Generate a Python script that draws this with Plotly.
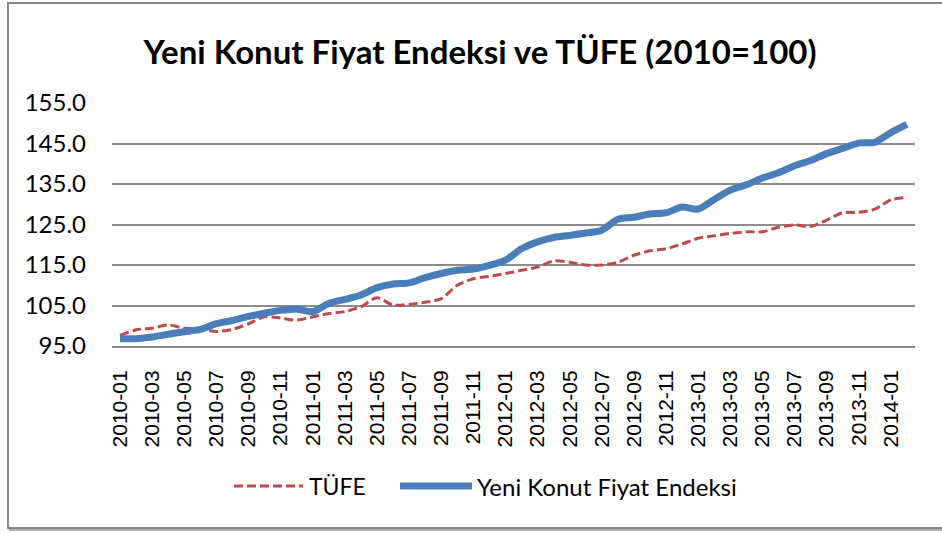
import plotly.graph_objects as go

# Monthly series, 2010-01 .. 2014-02 (2010 = 100)
months = [f"{y}-{m:02d}" for y in range(2010, 2015) for m in range(1, 13)][:50]
tufe = [97.6, 99.0, 99.4, 100.2, 99.4, 99.2, 98.6, 99.1, 100.5, 102.2,
        101.9, 101.4, 102.2, 103.0, 103.5, 104.7, 106.9, 105.1, 105.3, 105.8,
        106.7, 110.0, 111.6, 112.2, 112.9, 113.7, 114.5, 116.0, 115.7, 115.0,
        115.0, 115.7, 117.4, 118.5, 119.0, 120.2, 121.6, 122.2, 122.8, 123.2,
        123.2, 124.3, 124.9, 124.5, 126.1, 127.9, 128.0, 128.8, 131.1, 131.7]
konut = [96.8, 96.8, 97.2, 97.9, 98.5, 99.1, 100.5, 101.3, 102.3, 103.1,
         103.8, 104.1, 103.5, 105.5, 106.5, 107.6, 109.4, 110.3, 110.6, 111.9,
         112.9, 113.7, 114.0, 114.9, 116.2, 119.0, 120.7, 121.8, 122.3, 122.9,
         123.6, 126.3, 126.8, 127.6, 127.9, 129.3, 128.8, 131.2, 133.5, 134.8,
         136.5, 137.8, 139.5, 140.8, 142.5, 143.8, 145.1, 145.3, 147.7, 149.7]
y_ticks = [95, 105, 115, 125, 135, 145, 155]
series_names = ["TÜFE", "Yeni Konut Fiyat Endeksi"]
title_text = "Yeni Konut Fiyat Endeksi ve TÜFE (2010=100)"

RED = "#be4b48"
BLUE = "#4a7ebb"
GRID = "#8c8c8c"

W, H = 942, 533
ML, MR, MT, MB = 112, 27, 103, 187
PW, PH = W - ML - MR, H - MT - MB


def px_x(p):
    return (p - ML) / PW


def px_y(p):
    return (H - MB - p) / PH


fig = go.Figure()
fig.add_trace(go.Scatter(x=months, y=tufe, name=series_names[0], mode="lines",
                         line=dict(color=RED, width=3, dash="9px,4px",
                                   shape="spline", smoothing=0.8)))
fig.add_trace(go.Scatter(x=months, y=konut, name=series_names[1], mode="lines",
                         line=dict(color=BLUE, width=7,
                                   shape="spline", smoothing=0.8)))

shapes = [
    # chart frame
    dict(type="rect", xref="paper", yref="paper",
         x0=px_x(8), x1=px_x(950), y0=px_y(528), y1=px_y(3),
         line=dict(color="#888888", width=2), layer="below"),
    dict(type="line", xref="paper", yref="paper",
         x0=px_x(9), x1=px_x(950), y0=px_y(530), y1=px_y(530),
         line=dict(color="#b0b0b0", width=2)),
    # legend samples
    dict(type="line", xref="paper", yref="paper",
         x0=px_x(234), x1=px_x(303), y0=px_y(486), y1=px_y(486),
         line=dict(color=RED, width=3, dash="9px,4px")),
    dict(type="line", xref="paper", yref="paper",
         x0=px_x(400), x1=px_x(472), y0=px_y(486), y1=px_y(486),
         line=dict(color=BLUE, width=7)),
]

annotations = [
    dict(text=series_names[0], xref="paper", yref="paper",
         x=px_x(307), y=px_y(486), xanchor="left", yanchor="middle",
         showarrow=False, font=dict(family="Lato", size=23, color="#000000")),
    dict(text=series_names[1], xref="paper", yref="paper",
         x=px_x(475), y=px_y(486), xanchor="left", yanchor="middle",
         showarrow=False, font=dict(family="Lato", size=24, color="#000000")),
]

fig.update_layout(
    width=W, height=H,
    margin=dict(l=ML, r=MR, t=MT, b=MB),
    paper_bgcolor="white", plot_bgcolor="white",
    showlegend=False,
    title=dict(text=f"<b>{title_text}</b>", x=480 / W, y=1 - 52 / H,
               xanchor="center", yanchor="middle", xref="container",
               font=dict(family="Lato", size=33, color="#000000")),
    shapes=shapes,
    annotations=annotations,
    hovermode=False,
)

fig.update_xaxes(type="category", range=[-0.5, len(months) - 0.5],
                 tickmode="array", tickvals=months[::2], ticktext=months[::2],
                 tickangle=-90, ticks="", ticklabelstandoff=14,
                 tickfont=dict(family="Liberation Sans", size=21, color="#000000"),
                 showgrid=False, showline=True, linecolor=GRID, linewidth=2,
                 zeroline=False)
fig.update_yaxes(range=[95, 155], tickmode="array", tickvals=y_ticks,
                 tickformat=".1f", ticks="", ticklabelstandoff=25,
                 tickfont=dict(family="Lato", size=24, color="#000000"),
                 showgrid=True, gridcolor=GRID, gridwidth=2,
                 showline=False, zeroline=False)

fig.write_html("out.html")
